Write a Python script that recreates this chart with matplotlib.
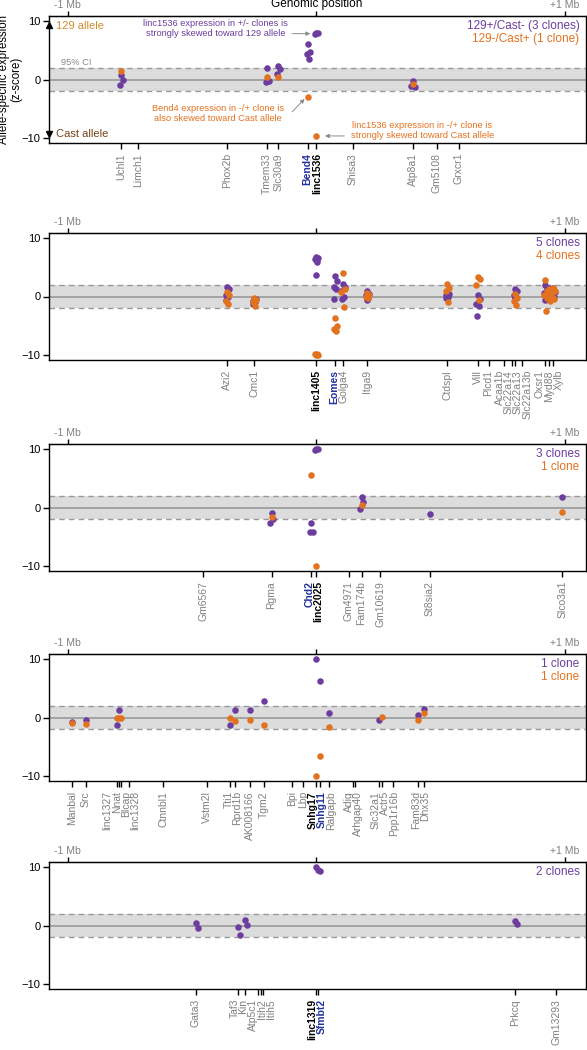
import matplotlib
matplotlib.use('Agg')
import matplotlib.pyplot as plt
import numpy as np

plt.rcParams['font.family'] = ['Liberation Sans', 'DejaVu Sans']

PURPLE = '#6c3d9e'
ORANGE = '#e3721f'
BLUE = '#22319c'
GRAY = '#808080'

# ---- panel 1 (linc1536 locus) ----
p1_genes = ['Uchl1', 'Limch1', 'Phox2b', 'Tmem33', 'Slc30a9', 'Bend4', 'linc1536',
            'Shisa3', 'Atp8a1', 'Gm5108', 'Grxcr1']
p1_pos = [-0.785, -0.716, -0.359, -0.198, -0.153, -0.032, 0.0, 0.148, 0.389, 0.484, 0.574]
p1_purple = {'Uchl1': [0.85, 0.0, -0.9], 'Tmem33': [2.0, -0.2, -0.35],
             'Slc30a9': [2.25, 1.85, 0.9], 'Bend4': [6.0, 4.7, 4.4, 3.5],
             'linc1536': [7.9, 7.9, 7.8], 'Atp8a1': [-0.3, -1.25, -1.1]}
p1_orange = {'Uchl1': [1.4], 'Tmem33': [0.5], 'Slc30a9': [0.35], 'Bend4': [-2.95],
             'linc1536': [-9.6], 'Atp8a1': [-0.7]}
p1_bold = {'Bend4': BLUE, 'linc1536': 'black'}
p1_legend = ['129+/Cast- (3 clones)', '129-/Cast+ (1 clone)']

# ---- panel 2 (linc1405 / Eomes) ----
p2_genes = ['Azi2', 'Cmc1', 'linc1405', 'Eomes', 'Golga4', 'Itga9', 'Ctdspl', 'Vill', 'Plcd1',
            'Acaa1b', 'Slc22a14', 'Slc22a13', 'Slc22a13b', 'Oxsr1', 'Myd88', 'Xylb']
p2_pos = [-0.359, -0.25, 0.0, 0.076, 0.106, 0.206, 0.526, 0.649, 0.693,
          0.755, 0.787, 0.801, 0.828, 0.922, 0.935, 0.953]
p2_purple = {'Azi2': [1.6, 1.2, 0.3, 0.0, -0.6], 'Cmc1': [-0.4, -0.5, -0.7, -0.9, -1.2],
             'linc1405': [6.8, 6.5, 6.3, 5.9, 3.7], 'Eomes': [3.5, 2.6, 1.6, 1.2, -0.4],
             'Golga4': [2.2, 1.7, 0.9, 0.0, -0.4], 'Itga9': [1.0, 0.5, 0.3, -0.2, -0.6],
             'Ctdspl': [0.6, 0.4, 0.2, 0.0, -0.2], 'Vill': [0.3, -0.4, -1.3, -1.6, -3.4],
             'Slc22a13': [1.3, 0.9, 0.3, 0.0, -0.3], 'Oxsr1': [1.9, 1.2, 0.6, 0.2, -0.6],
             'Myd88': [1.4, 0.9, 0.5, 0.0, -0.4], 'Xylb': [1.5, 0.8, 0.6, 0.0, -0.2]}
p2_orange = {'Azi2': [0.7, 0.2, -0.85, -1.2], 'Cmc1': [-0.3, -0.6, -1.0, -1.7],
             'linc1405': [-9.9, -9.9, -9.8, -9.8], 'Eomes': [-3.7, -5.1, -5.5, -5.9],
             'Golga4': [4.0, 1.3, 0.8, -1.8], 'Itga9': [0.6, 0.2, 0.0, -0.3],
             'Ctdspl': [2.1, 1.5, 1.0, -0.9], 'Vill': [3.4, 3.0, 2.0, -0.6],
             'Slc22a13': [0.5, -0.2, -0.8, -1.4], 'Oxsr1': [2.8, 0.9, 0.3, -2.4],
             'Myd88': [1.2, 0.4, -0.3, -0.7], 'Xylb': [1.4, 0.9, 0.0, -0.4]}
p2_bold = {'linc1405': 'black', 'Eomes': BLUE}
p2_legend = ['5 clones', '4 clones']

# ---- panel 3 (linc2025 / Chd2) ----
p3_genes = ['Gm6567', 'Rgma', 'Chd2', 'linc2025', 'Gm4971', 'Fam174b', 'Gm10619', 'St8sia2', 'Slco3a1']
p3_pos = [-0.455, -0.18, -0.02, 0.0, 0.13, 0.182, 0.257, 0.456, 0.99]
p3_purple = {'Rgma': [-0.9, -2.0, -2.7], 'Chd2': [-2.6, -4.1, -4.2], 'linc2025': [9.9, 9.9, 9.8],
             'Fam174b': [1.8, 0.9, -0.3], 'St8sia2': [-1.1], 'Slco3a1': [1.8]}
p3_orange = {'Rgma': [-1.6], 'Chd2': [5.6], 'linc2025': [-9.9], 'Fam174b': [0.4], 'Slco3a1': [-0.75]}
p3_bold = {'Chd2': BLUE, 'linc2025': 'black'}
p3_legend = ['3 clones', '1 clone']

# ---- panel 4 (Snhg17 / Snhg11) ----
p4_genes = ['Manbal', 'Src', 'linc1327', 'Nnat', 'Blcap', 'linc1328', 'Ctnnbl1', 'Vstm2l', 'Tti1',
            'Rprd1b', 'AK008166', 'Tgm2', 'Bpi', 'Lbp', 'Snhg17', 'Snhg11', 'Ralgapb', 'Adig',
            'Arhgap40', 'Slc32a1', 'Actr5', 'Ppp1r16b', 'Fam83d', 'Dhx35']
p4_pos = [-0.981, -0.928, -0.803, -0.794, -0.784, -0.754, -0.616, -0.439, -0.345,
          -0.325, -0.265, -0.212, -0.098, -0.052, 0.0, 0.016, 0.053, 0.147,
          0.155, 0.253, 0.264, 0.310, 0.408, 0.434]
p4_purple = {'Manbal': [-0.75], 'Src': [-0.45], 'linc1327': [-1.3], 'Nnat': [1.25], 'Tti1': [-1.3],
             'Rprd1b': [1.25], 'AK008166': [1.25], 'Tgm2': [2.8], 'Snhg17': [9.9], 'Snhg11': [6.25],
             'Ralgapb': [0.7], 'Slc32a1': [-0.35], 'Fam83d': [0.4], 'Dhx35': [1.45]}
p4_orange = {'Manbal': [-0.9], 'Src': [-1.15], 'linc1327': [-0.05], 'Nnat': [-0.05], 'Blcap': [-0.05],
             'Tti1': [-0.05], 'Rprd1b': [-0.55], 'AK008166': [-0.5], 'Tgm2': [-1.3], 'Snhg17': [-9.9],
             'Snhg11': [-6.6], 'Ralgapb': [-1.6], 'Actr5': [0.1], 'Fam83d': [-0.35], 'Dhx35': [0.7]}
p4_bold = {'Snhg17': 'black', 'Snhg11': BLUE}
p4_legend = ['1 clone', '1 clone']

# ---- panel 5 (linc1319 / Sfmbt2) ----
p5_genes = ['Gata3', 'Taf3', 'Kin', 'Atp5c1', 'Itih2', 'Itih5', 'linc1319', 'Sfmbt2', 'Prkcq', 'Gm13293']
p5_pos = [-0.485, -0.316, -0.286, -0.236, -0.224, -0.214, 0.0, 0.006, 0.80, 0.966]
p5_purple = {'Gata3': [0.4, -0.4], 'Taf3': [-0.2, -1.6], 'Kin': [0.9, 0.1],
             'linc1319': [10.0], 'Sfmbt2': [9.4, 9.2], 'Prkcq': [0.8, 0.2]}
p5_orange = {}
p5_bold = {'linc1319': 'black', 'Sfmbt2': BLUE}
p5_legend = ['2 clones', None]

JIT = [0.0, 0.008, -0.006, 0.004, -0.003]


def spread(xs, d):
    # push labels apart so they don't overlap
    order = np.argsort(xs)
    x = np.array(xs, float)[order]
    for _ in range(400):
        moved = False
        for i in range(len(x) - 1):
            gap = x[i + 1] - x[i]
            if gap < d - 1e-9:
                sh = (d - gap) / 2
                x[i] -= sh
                x[i + 1] += sh
                moved = True
        if not moved:
            break
    out = np.empty_like(x)
    out[order] = x
    return out


def draw_panel(ax, genes, pos, purple, orange, bold, legend, mid_label):
    ax.set_xlim(-1.075, 1.085)
    ax.set_ylim(-10.8, 10.8)
    ax.axhspan(-2, 2, color='#dcdcdc', lw=0, zorder=0)
    ax.axhline(0, color='#999999', lw=1.2, zorder=1)
    for yy in (-2, 2):
        ax.axhline(yy, color='#999999', lw=1.0, ls=(0, (4, 3)), zorder=1)
    gpos = dict(zip(genes, pos))
    for vals, col in ((purple, PURPLE), (orange, ORANGE)):
        for g, zs in vals.items():
            xs = [gpos[g] + JIT[i % len(JIT)] for i in range(len(zs))]
            ax.scatter(xs, zs, s=22, color=col, lw=0, zorder=3)

    ax.set_xticks(pos)
    ax.set_xticklabels([])
    ax.tick_params(axis='x', length=4, width=1.0, direction='out')
    ax.set_yticks([-10, 0, 10])
    ax.tick_params(axis='y', length=4, width=1.0, labelsize=8, pad=2)
    for sp in ax.spines.values():
        sp.set_linewidth(1.0)

    lab_x = spread(pos, 0.037)
    for g, lx in zip(genes, lab_x):
        col = bold.get(g, GRAY)
        fw = 'bold' if g in bold else 'normal'
        ax.annotate(g, xy=(lx, 0), xycoords=('data', 'axes fraction'), xytext=(0, -10),
                    textcoords='offset pixels', rotation=90, ha='center', va='top',
                    fontsize=7.5, color=col, fontweight=fw, annotation_clip=False)

    sec = ax.secondary_xaxis('top')
    sec.set_xticks([-1, 0, 1])
    sec.set_xticklabels(['-1 Mb', mid_label, '+1 Mb'])
    sec.tick_params(length=3.5, width=1.0, labelsize=7.5, pad=0.8)
    labs = sec.get_xticklabels()
    labs[0].set_color(GRAY)
    labs[2].set_color(GRAY)
    labs[1].set_color('black')
    labs[1].set_fontsize(8.5)

    tr = ax.get_yaxis_transform()
    if legend[0]:
        ax.text(0.988, 9.05, legend[0], transform=tr, ha='right', va='center', fontsize=8.5, color=PURPLE)
    if legend[1]:
        ax.text(0.988, 6.95, legend[1], transform=tr, ha='right', va='center', fontsize=8.5, color=ORANGE)


W, H = 587, 1050
fig = plt.figure(figsize=(W / 100, H / 100), dpi=100)
left, right, ph = 49, 586, 127
tops = [16, 233, 444, 654, 862]
panels = [
    (p1_genes, p1_pos, p1_purple, p1_orange, p1_bold, p1_legend, 'Genomic position'),
    (p2_genes, p2_pos, p2_purple, p2_orange, p2_bold, p2_legend, ''),
    (p3_genes, p3_pos, p3_purple, p3_orange, p3_bold, p3_legend, ''),
    (p4_genes, p4_pos, p4_purple, p4_orange, p4_bold, p4_legend, ''),
    (p5_genes, p5_pos, p5_purple, p5_orange, p5_bold, p5_legend, ''),
]
axes = []
for top, args in zip(tops, panels):
    ax = fig.add_axes([left / W, 1 - (top + ph) / H, (right - left) / W, ph / H])
    draw_panel(ax, *args)
    axes.append(ax)

# annotations on first panel
ax = axes[0]
ax.set_ylabel('Allele-specific expression\n(z-score)', fontsize=8.3, linespacing=1.05)
ax.yaxis.set_label_coords(-0.049, 0.5)
ax.plot([-1.075], [9.2], marker='^', color='black', ms=5, clip_on=False, zorder=5)
ax.plot([-1.075], [-9.2], marker='v', color='black', ms=5, clip_on=False, zorder=5)
ax.text(-1.046, 9.05, '129 allele', color='#d08a2e', fontsize=8, ha='left', va='center')
ax.text(-1.046, -9.2, 'Cast allele', color='#7a4216', fontsize=8, ha='left', va='center')
ax.text(-1.026, 2.9, '95% CI', color='#888888', fontsize=6.7, ha='left', va='center')

arr = dict(arrowstyle='-|>', color='#8c8c8c', lw=0.7, mutation_scale=6, shrinkA=0, shrinkB=0)
ax.text(-0.406, 8.6, 'linc1536 expression in +/- clones is\nstrongly skewed toward 129 allele',
        ha='center', va='center', fontsize=6.7, color=PURPLE, linespacing=1.15)
ax.annotate('', xy=(-0.024, 7.8), xytext=(-0.097, 7.8), arrowprops=arr)
ax.text(-0.394, -5.85, 'Bend4 expression in -/+ clone is\nalso skewed toward Cast allele',
        ha='center', va='center', fontsize=6.7, color=ORANGE, linespacing=1.15)
ax.annotate('', xy=(-0.047, -3.3), xytext=(-0.097, -5.5), arrowprops=arr)
ax.text(0.426, -8.75, 'linc1536 expression in -/+ clone is\nstrongly skewed toward Cast allele',
        ha='center', va='center', fontsize=6.7, color=ORANGE, linespacing=1.15)
ax.annotate('', xy=(0.035, -9.6), xytext=(0.113, -9.6), arrowprops=arr)

fig.savefig('out.png', dpi=100)
